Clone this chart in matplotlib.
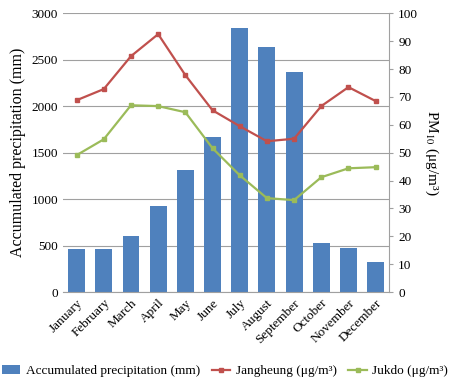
import numpy as np
import matplotlib.pyplot as plt

plt.rcParams['font.family'] = ['Liberation Serif', 'DejaVu Serif']
plt.rcParams['mathtext.fontset'] = 'stix'

months = ["January", "February", "March", "April", "May", "June", "July",
          "August", "September", "October", "November", "December"]
precip = [462, 465, 605, 922, 1315, 1665, 2845, 2632, 2372, 528, 473, 325]
jangheung = [68.8, 72.8, 84.6, 92.5, 77.8, 65.2, 59.5, 54.1, 55.0, 66.7, 73.5, 68.5]
jukdo = [49.1, 54.8, 67.0, 66.7, 64.5, 51.6, 41.9, 33.7, 33.0, 41.2, 44.4, 44.8]

fig = plt.figure(figsize=(4.5, 3.89), dpi=100)
ax = fig.add_axes([0.14, 0.249, 0.725, 0.717])
x = np.arange(len(months))

bars = ax.bar(x, precip, width=0.62, color="#4F81BD", zorder=2,
              label="Accumulated precipitation (mm)")
ax.set_ylim(0, 3000)
ax.set_yticks(np.arange(0, 3001, 500))
ax.set_xlim(-0.5, 11.5)
ax.set_xticks(x)
ax.set_xticklabels(months, rotation=45, ha="right", rotation_mode="anchor", fontsize=9.5)
ax.tick_params(axis="y", labelsize=9.5, length=0)
ax.tick_params(axis="x", length=0)
ax.grid(axis="y", color="#a0a0a0", linewidth=0.8, zorder=0)
ax.set_ylabel("Accumulated precipitation (mm)", fontsize=11.5)
for s in ["top", "right", "left"]:
    ax.spines[s].set_visible(False)
ax.spines["bottom"].set_color("#a0a0a0")

ax2 = ax.twinx()
l1, = ax2.plot(x, jangheung, color="#C0504D", marker="s", markersize=3.5, linewidth=1.6,
               label="Jangheung (μg/m³)")
l2, = ax2.plot(x, jukdo, color="#9BBB59", marker="s", markersize=3.5, linewidth=1.6,
               label="Jukdo (μg/m³)")
ax2.set_ylim(0, 100)
ax2.set_yticks(np.arange(0, 101, 10))
ax2.tick_params(axis="y", labelsize=9.5, length=3, color="#a0a0a0")
ax2.set_ylabel("PM$_{10}$ (μg/m³)", rotation=270, labelpad=16, fontsize=11)
for s in ["top", "left", "bottom"]:
    ax2.spines[s].set_visible(False)
ax2.spines["right"].set_color("#a0a0a0")

fig.legend(handles=[bars, l1, l2], loc="lower center", ncol=3, frameon=False,
           fontsize=9.5, bbox_to_anchor=(0.5, 0.0), handlelength=1.4,
           columnspacing=0.9, handletextpad=0.4)

fig.savefig("out.png", dpi=100)
